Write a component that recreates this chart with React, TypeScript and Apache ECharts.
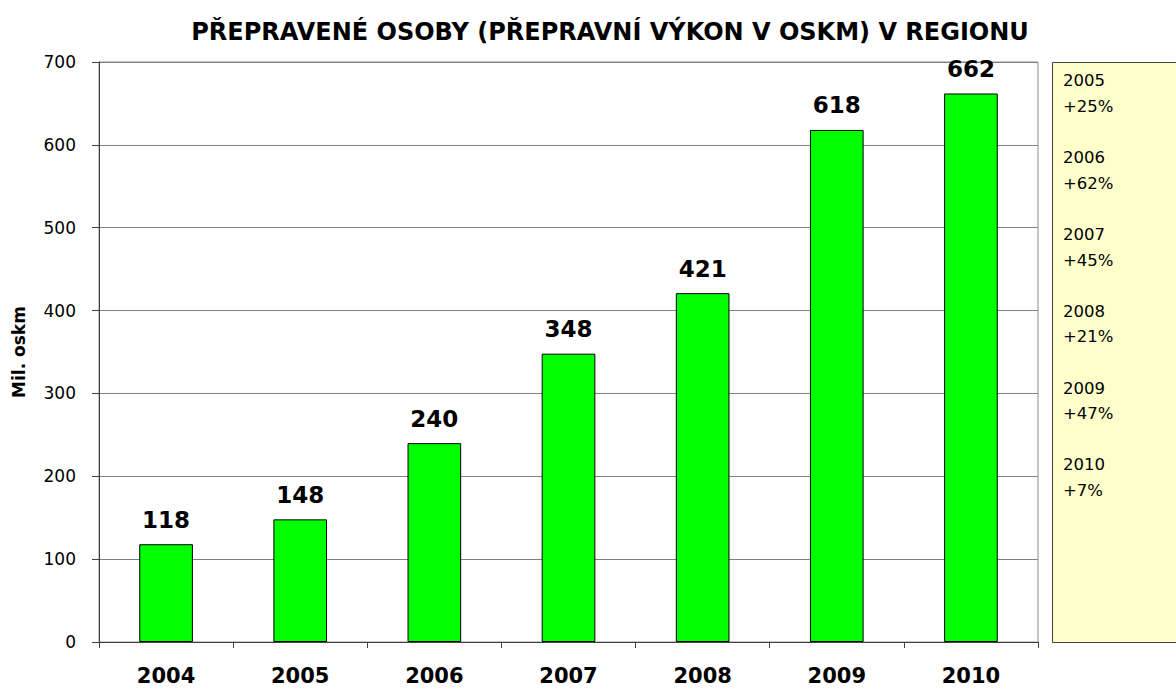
import React, { useEffect, useRef } from "react";
import * as echarts from "echarts";

const years = ["2004", "2005", "2006", "2007", "2008", "2009", "2010"];
const values = [118, 148, 240, 348, 421, 618, 662];
const growthYears = ["2005", "2006", "2007", "2008", "2009", "2010"];
const growthLabels = ["+25%", "+62%", "+45%", "+21%", "+47%", "+7%"];
const yTicks = [0, 100, 200, 300, 400, 500, 600, 700];

const FONT = "'DejaVu Sans', Verdana, sans-serif";

export default function App() {
  const ref = useRef<HTMLDivElement>(null);
  useEffect(() => {
    if (!ref.current) return;
    const chart = echarts.init(ref.current, null, { renderer: "svg" });
    const panelText = growthYears
      .map((y, i) => `${y}\n${growthLabels[i]}`)
      .join("\n\n");
    chart.setOption({
      animation: false,
      backgroundColor: "#ffffff",
      title: {
        text: "PŘEPRAVENÉ OSOBY (PŘEPRAVNÍ VÝKON V OSKM) V REGIONU",
        left: 605,
        textAlign: "center",
        top: 15,
        textStyle: { fontFamily: FONT, fontSize: 24, fontWeight: "bold", color: "#000" },
      },
      grid: {
        left: 99,
        right: 138,
        top: 62,
        bottom: 47,
        show: true,
        borderColor: "#8c8c8c",
        borderWidth: 1,
        backgroundColor: "transparent",
      },
      xAxis: {
        type: "category",
        data: years,
        axisLine: { show: true, lineStyle: { color: "#404040", width: 1 } },
        axisTick: { show: true, alignWithLabel: false, length: 6, lineStyle: { color: "#404040" } },
        axisLabel: {
          margin: 23,
          fontFamily: FONT,
          fontSize: 21,
          fontWeight: "bold",
          color: "#000",
        },
      },
      yAxis: {
        type: "value",
        min: yTicks[0],
        max: yTicks[yTicks.length - 1],
        interval: 100,
        name: "Mil. oskm",
        nameLocation: "middle",
        nameRotate: 90,
        nameGap: 72,
        nameTextStyle: { fontFamily: FONT, fontSize: 17, fontWeight: "bold", color: "#000" },
        axisLine: { show: true, lineStyle: { color: "#404040", width: 1 } },
        axisTick: { show: true, length: 7, lineStyle: { color: "#404040" } },
        axisLabel: { margin: 23, fontFamily: FONT, fontSize: 17, color: "#000" },
        splitLine: { show: true, lineStyle: { color: "#808080", width: 1 } },
      },
      series: [
        {
          type: "bar",
          data: values,
          barWidth: "40%",
          itemStyle: { color: "#00ff00", borderColor: "#000", borderWidth: 1 },
          label: {
            show: true,
            position: "top",
            distance: 13,
            fontFamily: FONT,
            fontSize: 23,
            fontWeight: "bold",
            color: "#000",
          },
        },
      ],
      graphic: [
        {
          type: "rect",
          shape: { x: 1052.5, y: 62.5, width: 140, height: 580 },
          style: { fill: "#ffffcc", stroke: "#404040", lineWidth: 1 },
          z: 1,
        },
        {
          type: "text",
          x: 1063,
          y: 68,
          z: 2,
          style: {
            text: panelText,
            fontFamily: FONT,
            fontSize: 16.5,
            lineHeight: 25.6,
            fill: "#000",
          },
        },
      ],
    });
    return () => chart.dispose();
  }, []);
  return (
    <div
      ref={ref}
      style={{ position: "fixed", left: 0, top: 0, width: 1176, height: 689 }}
    />
  );
}
